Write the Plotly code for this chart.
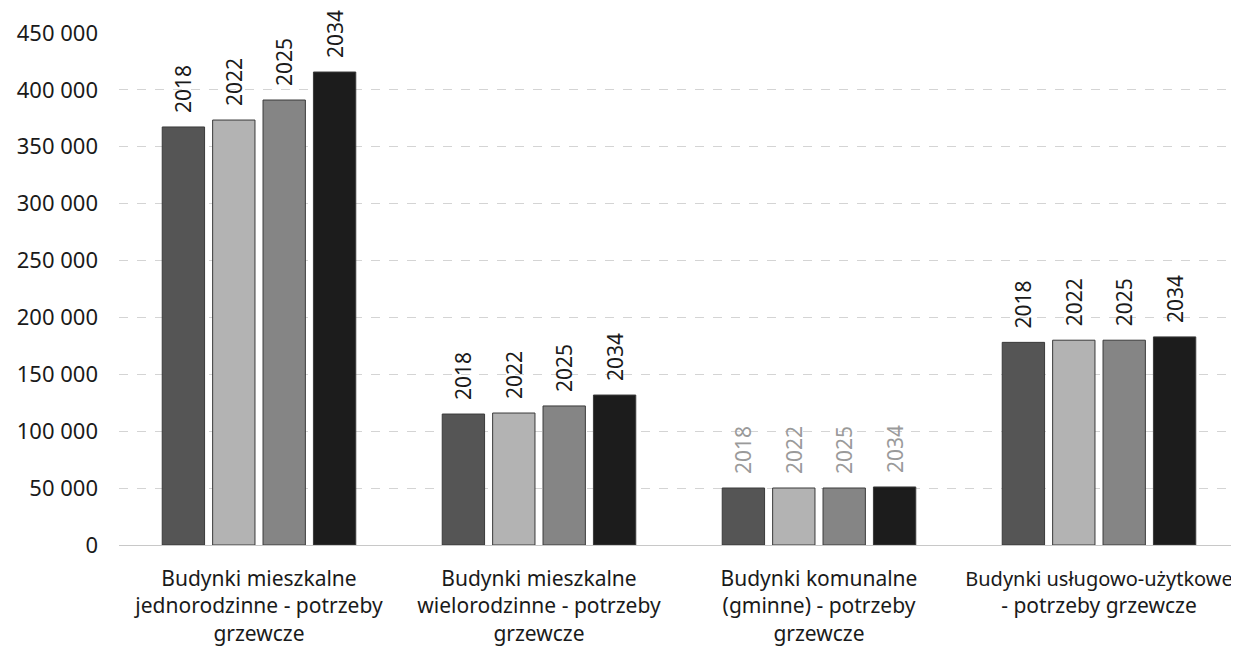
import plotly.graph_objects as go

categories = [
    "Budynki mieszkalne<br>jednorodzinne - potrzeby<br>grzewcze",
    "Budynki mieszkalne<br>wielorodzinne - potrzeby<br>grzewcze",
    "Budynki komunalne<br>(gminne) - potrzeby<br>grzewcze",
    "<span style=\"font-size:20px\">Budynki usługowo-użytkowe</span><br>- potrzeby grzewcze",
]
years = ["2018", "2022", "2025", "2034"]
v2018 = [367400, 115100, 50100, 178100]
v2022 = [373500, 116000, 50100, 180000]
v2025 = [391100, 122200, 50100, 180000]
v2034 = [415700, 131800, 51000, 182900]
series = [v2018, v2022, v2025, v2034]
colors = ["#555555", "#b3b3b3", "#858585", "#1c1c1c"]
label_colors = ["#1a1a1a", "#1a1a1a", "#9a9a9a", "#1a1a1a"]

FONT = "Noto Sans"
fig = go.Figure()
for yr, vals, col in zip(years, series, colors):
    fig.add_trace(go.Bar(
        x=categories, y=vals, name=yr,
        marker=dict(color=col, line=dict(color="#3a3a3a", width=1)),
        text=["\u00a0\u00a0" + yr] * len(vals),
        texttemplate="%{text}",
        textposition="outside",
        textangle=-90,
        constraintext="none",
        textfont=dict(family=FONT, size=21, color=label_colors),
        cliponaxis=False,
        hoverinfo="skip",
    ))

fig.update_layout(
    width=1239, height=656,
    margin=dict(l=111, r=8, t=25, b=119),
    paper_bgcolor="white", plot_bgcolor="white",
    barmode="group", bargap=0.28, bargroupgap=0.16,
    showlegend=False,
    separators=", ",
    font=dict(family=FONT, color="#1a1a1a"),
)
fig.update_yaxes(
    range=[0, 450000], tickvals=list(range(0, 450001, 50000)),
    tickformat=",d",
    showgrid=True, gridcolor="#d4d4d4", griddash="dash", gridwidth=1,
    zeroline=True, zerolinecolor="#c8c8c8", zerolinewidth=1,
    tickfont=dict(family=FONT, size=22, color="#1a1a1a"),
    ticklabelstandoff=20, showline=False,
)
fig.update_xaxes(
    tickfont=dict(family=FONT, size=21, color="#1a1a1a"),
    ticklabelstandoff=19, showline=False, ticks="",
)
fig.write_html("out.html")
